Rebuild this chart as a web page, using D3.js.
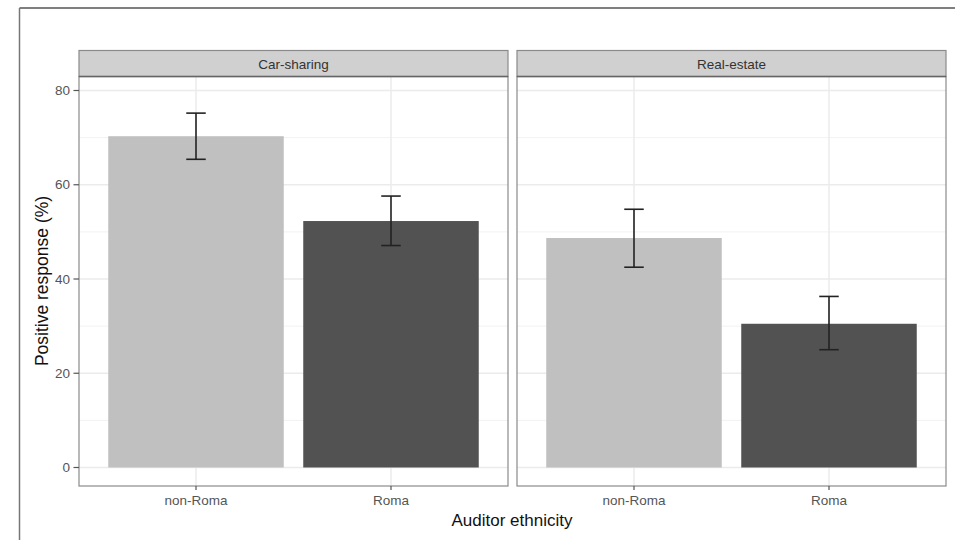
<!DOCTYPE html>
<html><head><meta charset="utf-8">
<script src="https://cdn.jsdelivr.net/npm/d3@7"></script>
<style>body{margin:0;background:#fff}svg{display:block}text{font-family:"Liberation Sans",Arial,sans-serif}</style>
</head><body>
<svg id="c" width="955" height="540"></svg>
<script>
const facets = ["Car-sharing", "Real-estate"];
const categories = ["non-Roma", "Roma"];
const values = { "Car-sharing": [70.3, 52.3], "Real-estate": [48.7, 30.5] };
const lower = { "Car-sharing": [65.4, 47.1], "Real-estate": [42.5, 25.0] };
const upper = { "Car-sharing": [75.2, 57.6], "Real-estate": [54.8, 36.3] };
const yTicks = [0, 20, 40, 60, 80];
const yMinor = [10, 30, 50, 70];
const fills = ["#c0c0c0", "#525252"];

const svg = d3.select("#c");
// outer frame (top and left lines)
svg.append("line").attr("x1",19.5).attr("x2",955).attr("y1",8).attr("y2",8).attr("stroke","#555").attr("stroke-width",1.5);
svg.append("line").attr("x1",19.5).attr("x2",19.5).attr("y1",8).attr("y2",540).attr("stroke","#777").attr("stroke-width",1.5);

const panelTop = 76.5, panelBottom = 486, stripTop = 50.5;
const panelX = [[79, 508], [517, 946]];
const y = d3.scaleLinear().domain([0, 80]).range([467.5, 90.5]);

facets.forEach((f, i) => {
  const [x0, x1] = panelX[i];
  const x = d3.scaleLinear().domain([0.4, 2.6]).range([x0, x1]);
  const g = svg.append("g");
  // minor grid
  g.selectAll(".ymin").data(yMinor).enter().append("line")
    .attr("x1", x0).attr("x2", x1).attr("y1", d => y(d)).attr("y2", d => y(d))
    .attr("stroke", "#f2f2f2").attr("stroke-width", 1);
  g.selectAll(".ymaj").data(yTicks).enter().append("line")
    .attr("x1", x0).attr("x2", x1).attr("y1", d => y(d)).attr("y2", d => y(d))
    .attr("stroke", "#ebebeb").attr("stroke-width", 1.5);
  g.selectAll(".xmaj").data(categories).enter().append("line")
    .attr("x1", (d, j) => x(j + 1)).attr("x2", (d, j) => x(j + 1))
    .attr("y1", panelTop).attr("y2", panelBottom)
    .attr("stroke", "#ebebeb").attr("stroke-width", 1.5);
  // bars
  g.selectAll(".bar").data(values[f]).enter().append("rect")
    .attr("x", (d, j) => x(j + 1 - 0.45)).attr("width", (d, j) => x(j + 1 + 0.45) - x(j + 1 - 0.45))
    .attr("y", d => y(d)).attr("height", d => y(0) - y(d))
    .attr("fill", (d, j) => fills[j]);
  // error bars
  values[f].forEach((v, j) => {
    const cx = x(j + 1), lo = y(lower[f][j]), hi = y(upper[f][j]);
    const hw = (x(j + 1.05) - x(j + 1));
    const eg = g.append("g").attr("stroke", "#222").attr("stroke-width", 1.6).attr("fill", "none");
    eg.append("line").attr("x1", cx).attr("x2", cx).attr("y1", hi).attr("y2", lo);
    eg.append("line").attr("x1", cx - hw).attr("x2", cx + hw).attr("y1", hi).attr("y2", hi);
    eg.append("line").attr("x1", cx - hw).attr("x2", cx + hw).attr("y1", lo).attr("y2", lo);
  });
  // panel border
  g.append("rect").attr("x", x0).attr("y", panelTop).attr("width", x1 - x0).attr("height", panelBottom - panelTop)
    .attr("fill", "none").attr("stroke", "#8a8a8a").attr("stroke-width", 1.2);
  // strip
  g.append("rect").attr("x", x0).attr("y", stripTop).attr("width", x1 - x0).attr("height", panelTop - stripTop)
    .attr("fill", "#d0d0d0").attr("stroke", "#8a8a8a").attr("stroke-width", 1.2);
  g.append("line").attr("x1", x0).attr("x2", x1).attr("y1", panelTop).attr("y2", panelTop)
    .attr("stroke", "#666").attr("stroke-width", 1.5);
  g.append("text").attr("x", (x0 + x1) / 2).attr("y", stripTop + 18).attr("text-anchor", "middle")
    .attr("font-size", 13.5).attr("fill", "#333").text(f);
  // x axis ticks
  const xa = g.append("g");
  categories.forEach((c, j) => {
    xa.append("line").attr("x1", x(j + 1)).attr("x2", x(j + 1)).attr("y1", panelBottom).attr("y2", panelBottom + 4)
      .attr("stroke", "#555").attr("stroke-width", 1.2);
    xa.append("text").attr("x", x(j + 1)).attr("y", panelBottom + 18.5).attr("text-anchor", "middle")
      .attr("font-size", 13.5).attr("fill", "#555").text(c);
  });
});

// y axis
const ya = svg.append("g");
yTicks.forEach(t => {
  ya.append("line").attr("x1", 73.5).attr("x2", 79).attr("y1", y(t)).attr("y2", y(t)).attr("stroke", "#555").attr("stroke-width", 1.2);
  ya.append("text").attr("x", 70).attr("y", y(t) + 4.6).attr("text-anchor", "end").attr("font-size", 13.5).attr("fill", "#555").text(t);
});

svg.append("text").attr("x", 512).attr("y", 526).attr("text-anchor", "middle").attr("font-size", 17).attr("fill", "#111").text("Auditor ethnicity");
svg.append("text").attr("transform", "translate(47.5,281) rotate(-90)").attr("text-anchor", "middle").attr("font-size", 17.5).attr("fill", "#111").text("Positive response (%)");
</script>
</body></html>
